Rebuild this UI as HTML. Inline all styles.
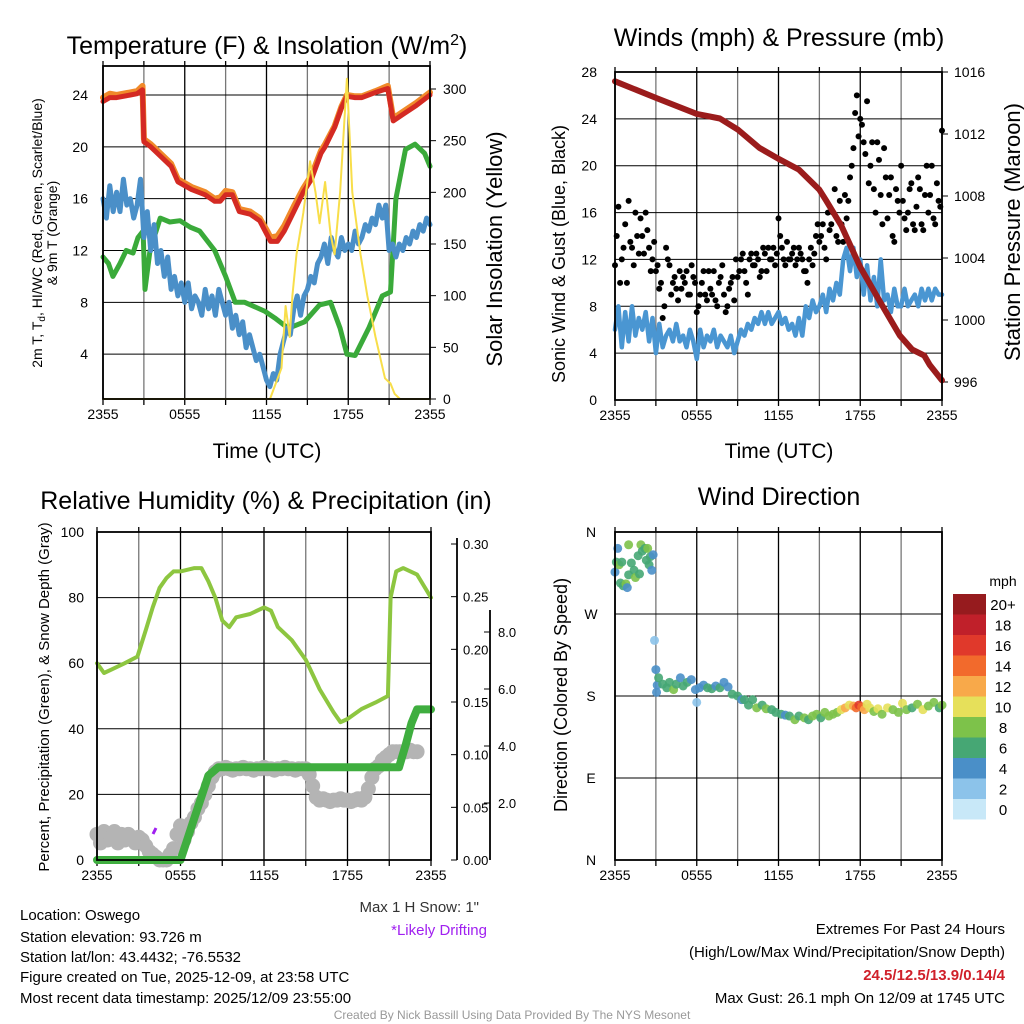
<!DOCTYPE html>
<html><head><meta charset="utf-8"><style>
body{margin:0;background:#fff;}
svg{display:block;font-family:"Liberation Sans",sans-serif;}
</style></head><body>
<svg id="c" width="1024" height="1024" viewBox="0 0 1024 1024" xmlns="http://www.w3.org/2000/svg">
<rect width="1024" height="1024" fill="#fff"/>
<g id="g1"></g>
<g id="g2"></g>
<g id="g3"></g>
<g id="g4"></g>
<g font-size="25" text-anchor="middle" fill="#000">
<text x="267" y="54">Temperature (F) &amp; Insolation (W/m<tspan dy="-9" font-size="16">2</tspan><tspan dy="9">)</tspan></text>
<text x="779" y="46">Winds (mph) &amp; Pressure (mb)</text>
<text x="266" y="509">Relative Humidity (%) &amp; Precipitation (in)</text>
<text x="779" y="505">Wind Direction</text>
</g>
<g font-size="21" text-anchor="middle">
<text x="267" y="458">Time (UTC)</text>
<text x="779" y="458">Time (UTC)</text>
</g>
<g font-size="22" text-anchor="middle">
<text transform="translate(502,249) rotate(-90)">Solar Insolation (Yellow)</text>
<text transform="translate(1020,232) rotate(-90)">Station Pressure (Maroon)</text>
</g>
<g font-size="18" text-anchor="middle">
<text transform="translate(565,254) rotate(-90)">Sonic Wind &amp; Gust (Blue, Black)</text>
<text transform="translate(567,695) rotate(-90)">Direction (Colored By Speed)</text>
</g>
<g font-size="14" text-anchor="middle">
<text transform="translate(42,233) rotate(-90)">2m T, T<tspan font-size="10" dy="3">d</tspan><tspan dy="-3">, HI/WC (Red, Green, Scarlet/Blue)</tspan></text>
<text transform="translate(57,233) rotate(-90)">&amp; 9m T (Orange)</text>
</g>
<text transform="translate(49,697) rotate(-90)" font-size="15" text-anchor="middle">Percent, Precipitation (Green), &amp; Snow Depth (Gray)</text>
<g font-size="15">
<text x="20" y="920">Location: Oswego</text>
<text x="20" y="942">Station elevation: 93.726 m</text>
<text x="20" y="962">Station lat/lon: 43.4432; -76.5532</text>
<text x="20" y="982">Figure created on Tue, 2025-12-09, at 23:58 UTC</text>
<text x="20" y="1003">Most recent data timestamp: 2025/12/09 23:55:00</text>
<text x="479" y="912" text-anchor="end" fill="#333">Max 1 H Snow: 1"</text>
<text x="487" y="935" text-anchor="end" fill="#a020f0">*Likely Drifting</text>
<text x="1005" y="934" text-anchor="end">Extremes For Past 24 Hours</text>
<text x="1005" y="957" text-anchor="end">(High/Low/Max Wind/Precipitation/Snow Depth)</text>
<text x="1005" y="980" text-anchor="end" fill="#d0202a" font-weight="bold">24.5/12.5/13.9/0.14/4</text>
<text x="1005" y="1003" text-anchor="end">Max Gust: 26.1 mph On 12/09 at 1745 UTC</text>
</g>
<text x="512" y="1019" font-size="12" text-anchor="middle" fill="#999">Created By Nick Bassill Using Data Provided By The NYS Mesonet</text>
</svg>
<script>
// ---------- Panel 1 data ----------
const xTickLabels = ["2355","0555","1155","1755","2355"];
const tempTicks = [4,8,12,16,20,24];
const solarTicks = [0,50,100,150,200,250,300];
const redT = [0,0.5,1,2,2.5,2.9,3.0,3.5,4,5,5.5,6.5,7.5,8.2,8.6,9.0,9.5,10,10.8,11.5,12.0,12.3,12.8,13.3,14,14.7,15.3,16,16.3,17,17.5,17.9,18.5,19,20,20.9,21.3,22,23,24];
const redV = [23.5,23.8,23.8,24,24.1,24.4,20.4,20,19.5,18.5,17.3,16.7,16.3,15.8,15.8,16.3,16.3,15,14.8,14.3,13.3,12.7,12.7,13.5,15,16.5,17.5,19.5,20,21.5,23,23.9,23.8,23.8,24.2,24.5,22,22.5,23.2,24];
const orangeV = [23.8,24.1,24,24.2,24.3,24.7,20.6,20.2,19.7,18.7,17.5,16.9,16.5,16,16.1,16.6,16.5,15.2,15,14.5,13.6,13,13.1,13.9,15.4,16.8,17.8,19.7,20.2,21.6,23.1,24,23.9,23.9,24.3,24.7,22.2,22.7,23.4,24.2];
const dewT = [0,0.4,0.73,1.25,1.7,2.2,2.57,2.94,3.08,3.45,4.2,4.9,5.65,6.4,7.1,8.2,9.0,9.7,10.4,11.9,12.6,13.6,14.8,15.9,16.7,17.4,17.9,18.5,19.5,20.5,21.1,21.5,22.2,22.9,23.6,24];
const dewV = [11.5,11,10,11,12,11.8,13,13.5,9,12,14.5,14.2,14.3,13.8,13.5,12,10,8,8,7.3,6.8,6,6.5,7.8,8,6,4,3.9,6,8.5,8.8,16,19.8,20.2,19.5,18.5];
const chillV = [16,14.5,17,15, 16.5,15,17.5,15.5, 16,14.5,15.5,17.5, 13,15,12,14, 11,12,10,11.5, 9,10,8.5,9.5, 8,9.5,7.5,8.5, 8,7,9,7.5, 8.5,7,9,8, 7,8,6,7, 5.5,6.5,4.5,5.5, 4.5,3.5,4,3, 2,1.5,2.5,2, 4,5,6,5.5, 7.5,8.5,7,8.5, 9,10,9.5,11, 11.5,12.5,11,13, 12,11.5,13,12, 12.5,12,13.5,12.5, 13,14,13.5,14.5, 14,15.5,14.5,15.5, 12,12.5,11.5,12.5, 12,13,12.5,13.5, 13,14,13.5,14.5, 14];
const solarT = [0,12.26,13.1,13.4,13.7,13.9,14.2,14.7,15.2,15.6,15.9,16.3,16.7,17.0,17.4,17.9,18.3,18.9,19.4,20.0,20.7,21.1,21.4,21.8,24];
const solarV = [0,0,30,90,60,100,140,180,230,200,170,210,160,140,200,310,200,140,100,60,20,15,5,0,0];
// ---------- Panel 2 data ----------
const windTicks = [0,4,8,12,16,20,24,28];
const presTicks = [996,1000,1004,1008,1012,1016];
const windV = [6,8,4.5,7.5, 5,8,5.5,7, 6,7.5,5,7, 4,6.5,4.5,5.5, 6,5,6.5,5, 5.5,4.5,6,5, 3.5,6,4.5,5.5, 5,6,4.5,5.5, 5,4.5,5.5,4, 5,6,5.5,6.5, 6,7,6.5,7.5, 6.5,7.5,6.5,7, 7.5,6.5,7,6, 6.5,5.5,7,5.5, 8,7,8.5,7.5, 8,9,7.5,9.5, 8.5,10,9,12, 13,11,13,10.5, 12,9,11.5,8.5, 10.5,8,12,8.5, 9,7.5,9.5,8, 8,9.5,8,8.5, 9,8,9.5,8.5, 9.5,8.5,9.5,9, 9];
const gustA = [11.5,16.5,12,15, 17,13,16,12.5, 14,16,13,12, 11,9.5,7,13, 11.5,10,9.5,11, 10.5,11,9,10.5, 7.5,9,11,8.5, 9.5,11,8,10.5, 9,8,10,8.5, 10.5,12,11,9, 12.5,11.5,12,11, 12.5,13,12,11.5, 15.5,13,11.5,12, 12.5,11.5,13,12, 11,12,11.5,14, 13.5,15,12,14.5, 16,14,17,13.5, 15.5,19,21.5,26, 24,22,25.5,20, 18,22,17.5,21.5, 15.5,19,13.5,17, 20,15.5,16,18.5, 14.5,19,15,17.5, 16,20,15,17, 23];
const gustB = [14,10,13,10, 13.5,11.5,14,15.5, 12.5,14.5,11,13.5, 11.5,10,8,12, 9,10.5,8.5,9.5, 10,9,11.5,10, 8,10,9,11, 9,8.5,10,11.5, 7.5,9.5,10.5,12, 11,12.5,10,12, 11.5,12.5,10.5,13, 11,12,13,12.5, 14,12,13.5,12, 13,12,12.5,11, 10,13,12.5,15, 14,13,16,15, 18,13.5,15,17.5, 17,20,24.5,22.5, 23.5,21,18.5,22, 16,20.5,15,19, 17.5,14,18,16, 17,14.5,18,15, 16.5,18,14.5,20, 17.5,15.5,18.5,16.5];
const presT = [0,3.1,6.0,7.7,9.0,10.6,12.0,13.5,15.0,15.5,16.6,18.0,19.5,20.9,21.8,22.7,23.1,24];
const presV = [1015.4,1014.3,1013.3,1013.0,1012.3,1011.1,1010.4,1009.7,1008.4,1007.7,1006.1,1003.4,1001.1,999.0,998.1,997.7,997.1,996.1];
// ---------- Panel 3 data ----------
const rhTicks = [0,20,40,60,80,100];
const precipTicks = ["0.00","0.05","0.10","0.15","0.20","0.25","0.30"];
const snowTicks = ["2.0","4.0","6.0","8.0"];
const rhT = [0,0.5,1,2,2.9,3.5,4,4.5,5,5.5,6,7,7.5,8,8.5,9,9.5,10,11,12,12.5,13,14,15,16,17,17.5,18,19,20,20.9,21.1,21.5,22,23,24];
const rhV = [60,57,58,60,62,70,77,83,86,88,88,89,89,85,80,73,71,74,75,77,76,71,67,61,52,45,42,43,46,48,50,80,88,89,87,80];
const precipT = [0,6,6.5,7,7.5,8,8.7,21.7,22.2,22.6,23,24];
const precipV = [0,0,0.02,0.04,0.06,0.08,0.088,0.088,0.11,0.13,0.143,0.143];
const snowV = [0.9,0.6,1.0,0.7, 0.8,1.0,0.6,0.9, 0.7,0.9,0.8,0.6, 0.8,0.7,0.5,0.3, 0.2,0.1,0,0, 0,0.2,0.4,0.9, 1.2,0.7,1.0,1.3, 1.5,1.8,2.0,2.3, 2.6,2.9,3.1,3.2, 3.2,3.25,3.2,3.15, 3.2,3.2,3.25,3.2, 3.2,3.15,3.2,3.2, 3.25,3.2,3.2,3.15, 3.2,3.2,3.25,3.2, 3.2,3.15,3.2,3.2, 3.2,3.0,2.6,2.2, 2.1,2.15,2.1,2.05, 2.1,2.1,2.15,2.1, 2.1,2.05,2.1,2.15, 2.1,2.2,2.5,2.9, 3.2,3.3,3.5,3.6, 3.7,3.8,3.8,3.8, 3.8,3.8,3.85,3.8, 3.8];
// ---------- Panel 4 data ----------
const dirLabels = ["N","E","S","W","N"];
const speedLabels = ["0","2","4","6","8","10","12","14","16","18","20+"];
const speedColors = ["#c8e8f8","#8cc3ea","#4a8fc8","#46a774","#7dc24a","#e6e05a","#f8a94a","#f26a2c","#e0392b","#c0202a","#961b1e"];
const wdTimeA = [0,0.1,0.2,0.3,0.4,0.5,0.6,0.8,0.9,1.0,1.0,1.2,1.4,1.5,1.7,1.8,1.9,2.0,2.2,2.3,2.4,2.5,2.6,2.7,2.8];
const wdDirA = [316,327,342,324,304,327,301,303,299,313,346,326,318,310,334,314,346,339,342,329,342,324,333,318,335];
const wdSpdA = [5,6,4,8,7,6,6,8,4,6,8,6,7,8,7,7,8,6,7,6,8,6,6,4,4];
const wdTimeB = [2.9,3.0,3.05,3.1,3.2,3.5,3.8,4.0,4.3,4.5,4.8,5.0,5.3,5.6,5.9,6.0,6.2,6.5,6.8,7.1,7.4,7.7,8.0,8.3,8.6,9.0,9.3,9.5,9.8,10.1,10.4,10.8,11.1,11.5,11.8,12.2,12.5,12.8,13.2,13.5,13.9,14.2,14.5,14.8,15.1,15.4,15.7,16.0,16.3,16.6,16.9,17.2,17.5,17.7,17.9,18.1,18.3,18.5,18.7,19.0,19.3,19.6,20.0,20.4,20.8,21.1,21.4,21.8,22.2,22.6,23.0,23.4,23.8,24];
const wdDirB = [241,209,184,192,200,193,189,195,187,193,200,191,195,198,187,173,189,192,189,188,191,189,195,190,182,180,176,176,170,176,167,170,166,165,162,160,159,158,154,158,156,154,158,160,156,162,158,160,162,165,167,170,169,167,170,168,165,171,167,163,166,160,167,165,162,172,165,167,171,165,169,173,167,170];
const wdSpdB = [2,4,4,4,6,6,6,6,8,6,4,6,6,4,4,3,4,4,6,6,4,6,4,4,6,6,4,6,6,6,8,6,8,6,6,6,4,6,8,6,8,6,8,8,6,8,8,9,8,10,12,10,13,15,16,14,12,11,10,9,10,8,10,9,8,10,8,7,8,10,8,8,7,8];

const NS="http://www.w3.org/2000/svg";
function el(parent,tag,attrs){const e=document.createElementNS(NS,tag);for(const k in attrs)e.setAttribute(k,attrs[k]);parent.appendChild(e);return e;}
function lin(d0,d1,r0,r1){return v=>r0+(v-d0)*(r1-r0)/(d1-d0);}
function path(xs,ys,sx,sy){return xs.map((t,i)=>(i?"L":"M")+sx(t).toFixed(1)+","+sy(ys[i]).toFixed(1)).join("");}
function frame(g,x0,x1,y0,y1,vgrid,hgridYs){
  for(let i=0;i<=8;i++){const x=x0+(x1-x0)*i/8;const l=el(g,"line",{x1:x,x2:x,y1:y0,y2:y1,stroke:i%2?"#777":"#000","stroke-width":1.3});
  
  
  const tk=el(g,"line",{x1:x,x2:x,y1:y1,y2:y1+6,stroke:"#000","stroke-width":1.3});
  
  
  el(g,"line",{x1:x,x2:x,y1:y0,y2:y0-5,stroke:"#000","stroke-width":1.3});}
  hgridYs.forEach(y=>{const l=el(g,"line",{x1:x0,x2:x1,y1:y,y2:y,stroke:"#000","stroke-width":1});
  
  });
  xTickLabels.forEach((s,i)=>{const t=el(g,"text",{x:x0+(x1-x0)*i/4,y:y1+20,"font-size":14,"text-anchor":"middle"});t.textContent=s;
  
  });
}
function border(g,x0,x1,y0,y1){const r=el(g,"rect",{x:x0,y:y0,width:x1-x0,height:y1-y0,fill:"none",stroke:"#000","stroke-width":1.8});
  
  }
function label(g,x,y,s,anchor,size,name){const t=el(g,"text",{x:x,y:y,"font-size":size||14,"text-anchor":anchor||"end"});t.textContent=s;
  
  return t;}
function stroke(g,d,color,w,name){const p=el(g,"path",{d:d,fill:"none",stroke:color,"stroke-width":w,"stroke-linejoin":"round","stroke-linecap":"round"});
  
  return p;}
const q=i=>i*0.25;

// ---------- Panel 1 ----------
(function(){
  const g=document.getElementById("g1");
  const X0=103,X1=430,Y0=66,Y1=399;
  const sx=lin(0,24,X0,X1), sy=lin(0,24,406,95), sy2=lin(0,300,399,89);
  frame(g,X0,X1,Y0,Y1,true,tempTicks.map(sy));
  tempTicks.forEach(v=>label(g,88,sy(v)+5,String(v),"end",14,"y-tick-label"));
  solarTicks.forEach(v=>{label(g,443,sy2(v)+5,String(v),"start",14,"y2-tick-label");el(g,"line",{x1:X1,x2:X1+6,y1:sy2(v),y2:sy2(v),stroke:"#000"});});
  stroke(g,path(redT,orangeV,sx,sy),"#f08a2a",6,"nine-meter-temp-line");
  stroke(g,path(dewT,dewV,sx,sy),"#3aaa3a",5,"dewpoint-line");
  stroke(g,path(chillV.map((v,i)=>q(i)),chillV,sx,sy),"#4a8fc8",5,"wind-chill-line");
  stroke(g,path(redT,redV,sx,sy),"#d42a23",5,"temperature-line");
  stroke(g,path(solarT,solarV,sx,sy2),"#f8de4a",2,"solar-insolation-line");
  border(g,X0,X1,Y0,Y1);
})();

// ---------- Panel 2 ----------
(function(){
  const g=document.getElementById("g2");
  const X0=615,X1=942,Y0=72,Y1=400;
  const sx=lin(0,24,X0,X1), sy=lin(0,28,Y1,Y0), sy2=lin(1016,996,72,382);
  frame(g,X0,X1,Y0,Y1,true,windTicks.slice(1,7).map(sy));
  windTicks.forEach(v=>label(g,597,sy(v)+5,String(v),"end",14,"y-tick-label"));
  presTicks.forEach(v=>{label(g,954,sy2(v)+5,String(v),"start",14,"y2-tick-label");el(g,"line",{x1:X1,x2:X1+6,y1:sy2(v),y2:sy2(v),stroke:"#000"});});
  stroke(g,path(windV.map((v,i)=>q(i)),windV,sx,sy),"#4a96d2",4.5,"wind-speed-line");
  [gustA,gustB].forEach((arr,k)=>arr.forEach((v,i)=>{const c=el(g,"circle",{cx:sx(q(i)+k*0.125),cy:sy(v),r:3,fill:"#000"});
    
    }));
  stroke(g,path(presT,presV,sx,sy2),"#9b1c1c",6,"pressure-line");
  border(g,X0,X1,Y0,Y1);
})();

// ---------- Panel 3 ----------
(function(){
  const g=document.getElementById("g3");
  const X0=97,X1=431,Y0=532,Y1=860;
  const sx=lin(0,24,X0,X1), sy=lin(0,100,Y1,Y0), sp=lin(0,0.3,860,544), ss=lin(0,2,860,803);
  frame(g,X0,X1,Y0,Y1,true,rhTicks.slice(1,5).map(sy));
  rhTicks.forEach(v=>label(g,84,sy(v)+5,String(v),"end",14,"y-tick-label"));
  const a1=el(g,"line",{x1:457,x2:457,y1:538,y2:860,stroke:"#000","stroke-width":1.8});
  
  
  precipTicks.forEach(s=>{const y=sp(parseFloat(s));el(g,"line",{x1:451,x2:457,y1:y,y2:y,stroke:"#000"});label(g,463,y+5,s,"start",13,"precip-tick-label");});
  const a2=el(g,"line",{x1:490,x2:490,y1:610,y2:860,stroke:"#000","stroke-width":1.8});
  
  
  snowTicks.forEach(s=>{const y=ss(parseFloat(s));el(g,"line",{x1:484,x2:490,y1:y,y2:y,stroke:"#000"});label(g,498,y+5,s,"start",13,"snow-tick-label");});
  snowV.forEach((v,i)=>{const c=el(g,"circle",{cx:sx(q(i)),cy:ss(v),r:7.5,fill:"#b4b4b4"});
    
    });
  const c1=el(g,"circle",{cx:212,cy:777,r:7.5,fill:"#b4b4b4"});
  
  
  stroke(g,path(precipT,precipV,sx,sp),"#3fae3f",8,"precipitation-line");
  stroke(g,path(rhT,rhV,sx,sy),"#8dc640",4,"relative-humidity-line");
  const pm=el(g,"path",{d:"M153,834L156,828",stroke:"#a020f0","stroke-width":3});
  
  
  border(g,X0,X1,Y0,Y1);
})();

// ---------- Panel 4 ----------
(function(){
  const g=document.getElementById("g4");
  const X0=615,X1=942,Y0=532,Y1=860;
  const sx=lin(0,24,X0,X1), sy=lin(0,360,Y1,Y0);
  frame(g,X0,X1,Y0,Y1,true,[90,180,270].map(sy));
  dirLabels.forEach((s,i)=>label(g,591,sy(i*90)+5,s,"middle",14,"direction-tick-label"));
  const col=s=>speedColors[Math.min(10,Math.floor(s/2))];
  [[wdTimeA,wdDirA,wdSpdA],[wdTimeB,wdDirB,wdSpdB]].forEach(([T,D,S])=>T.forEach((t,i)=>{
    const c=el(g,"circle",{cx:sx(t),cy:sy(D[i]),r:4.5,fill:col(S[i]),"fill-opacity":0.9});
    
    }));
  border(g,X0,X1,Y0,Y1);
  label(g,1003,586,"mph","middle",14,"colorbar-title");
  for(let i=0;i<11;i++){const y=594+(10-i)*20.5;
    const r=el(g,"rect",{x:953,y:y,width:33,height:20.5,fill:speedColors[i]});
    
    
    label(g,1003,y+16,speedLabels[i],"middle",15,"colorbar-label");}
})();
</script>
</body></html>
